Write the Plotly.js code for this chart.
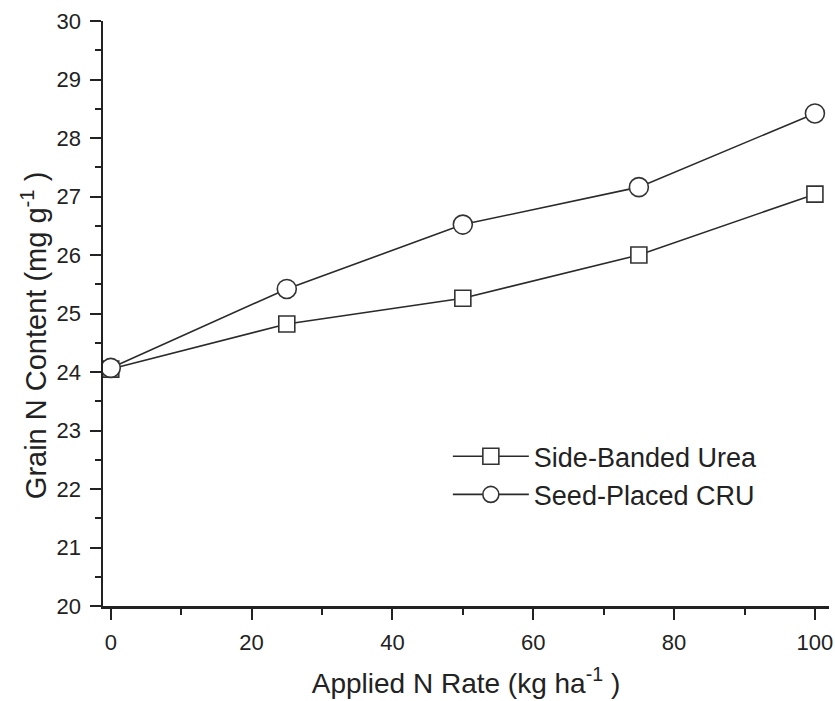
<!DOCTYPE html>
<html>
<head>
<meta charset="utf-8">
<script src="https://cdn.plot.ly/plotly-3.0.1.min.js"></script>
<style>html,body{margin:0;padding:0;background:#fff;}#chart{width:835px;height:701px;}</style>
</head>
<body>
<div id="chart"></div>
<script>
const nRate = [0, 25, 50, 75, 100];
const sideBandedUrea = [24.05, 24.82, 25.26, 26.0, 27.04];
const seedPlacedCRU = [24.07, 25.42, 26.52, 27.16, 28.42];
const seriesNames = ["Side-Banded Urea", "Seed-Placed CRU"];
const xTickVals = [0, 20, 40, 60, 80, 100];
const xMinorVals = [10, 30, 50, 70, 90];
const xTitle = 'Applied N Rate (kg ha<sup>-1</sup> )';
const yTitle = 'Grain N Content (mg g<sup>-1</sup> )';

const lineStyle = {color: '#2a2a2a', width: 1.6};
const traces = [
  {x: nRate, y: sideBandedUrea, name: seriesNames[0], type: 'scatter', mode: 'lines+markers',
   line: lineStyle, marker: {symbol: 'square', size: 16, color: '#ffffff', line: {color: '#333', width: 1.6}}},
  {x: nRate, y: seedPlacedCRU, name: seriesNames[1], type: 'scatter', mode: 'lines+markers',
   line: lineStyle, marker: {symbol: 'circle', size: 19, color: '#ffffff', line: {color: '#333', width: 1.6}}}
];

const fam = 'Liberation Sans, Arial, sans-serif';
const layout = {
  width: 835, height: 701,
  margin: {l: 103, r: 6, t: 21, b: 95},
  paper_bgcolor: '#fff', plot_bgcolor: '#fff',
  font: {family: fam, color: '#222', size: 22},
  showlegend: true,
  legend: {x: 0.475, y: 0.297, xanchor: 'left', yanchor: 'top', bgcolor: 'rgba(0,0,0,0)',
           font: {size: 27, color: '#222', family: fam}, itemwidth: 76, tracegroupgap: 0},
  xaxis: {
    range: [-1.1, 102], showgrid: false, zeroline: false,
    showline: true, linecolor: '#222', linewidth: 2.5,
    ticks: 'outside', ticklen: 11, tickwidth: 2, tickcolor: '#222',
    tickmode: 'array', tickvals: xTickVals, ticklabelstandoff: 4,
    minor: {tickmode: 'array', tickvals: xMinorVals, ticks: 'outside', ticklen: 6, tickwidth: 2, tickcolor: '#222'},
    tickfont: {size: 22, color: '#222', family: fam},
    title: {text: xTitle, font: {size: 28, color: '#222', family: fam}, standoff: 20}
  },
  yaxis: {
    range: [20, 30], showgrid: false, zeroline: false,
    showline: true, linecolor: '#222', linewidth: 2.5,
    ticks: 'outside', ticklen: 11, tickwidth: 2, tickcolor: '#222',
    dtick: 1, tick0: 20, ticklabelstandoff: 4,
    minor: {dtick: 0.5, ticks: 'outside', ticklen: 6, tickwidth: 2, tickcolor: '#222'},
    tickfont: {size: 22, color: '#222', family: fam}
  },
  annotations: [
    {text: yTitle, xref: 'paper', yref: 'paper', x: -0.095, y: 0.463, xanchor: 'center', yanchor: 'middle',
     textangle: -90, showarrow: false, font: {size: 29, color: '#222', family: fam}}
  ]
};
Plotly.newPlot('chart', traces, layout, {displayModeBar: false, staticPlot: true});
</script>
</body>
</html>
